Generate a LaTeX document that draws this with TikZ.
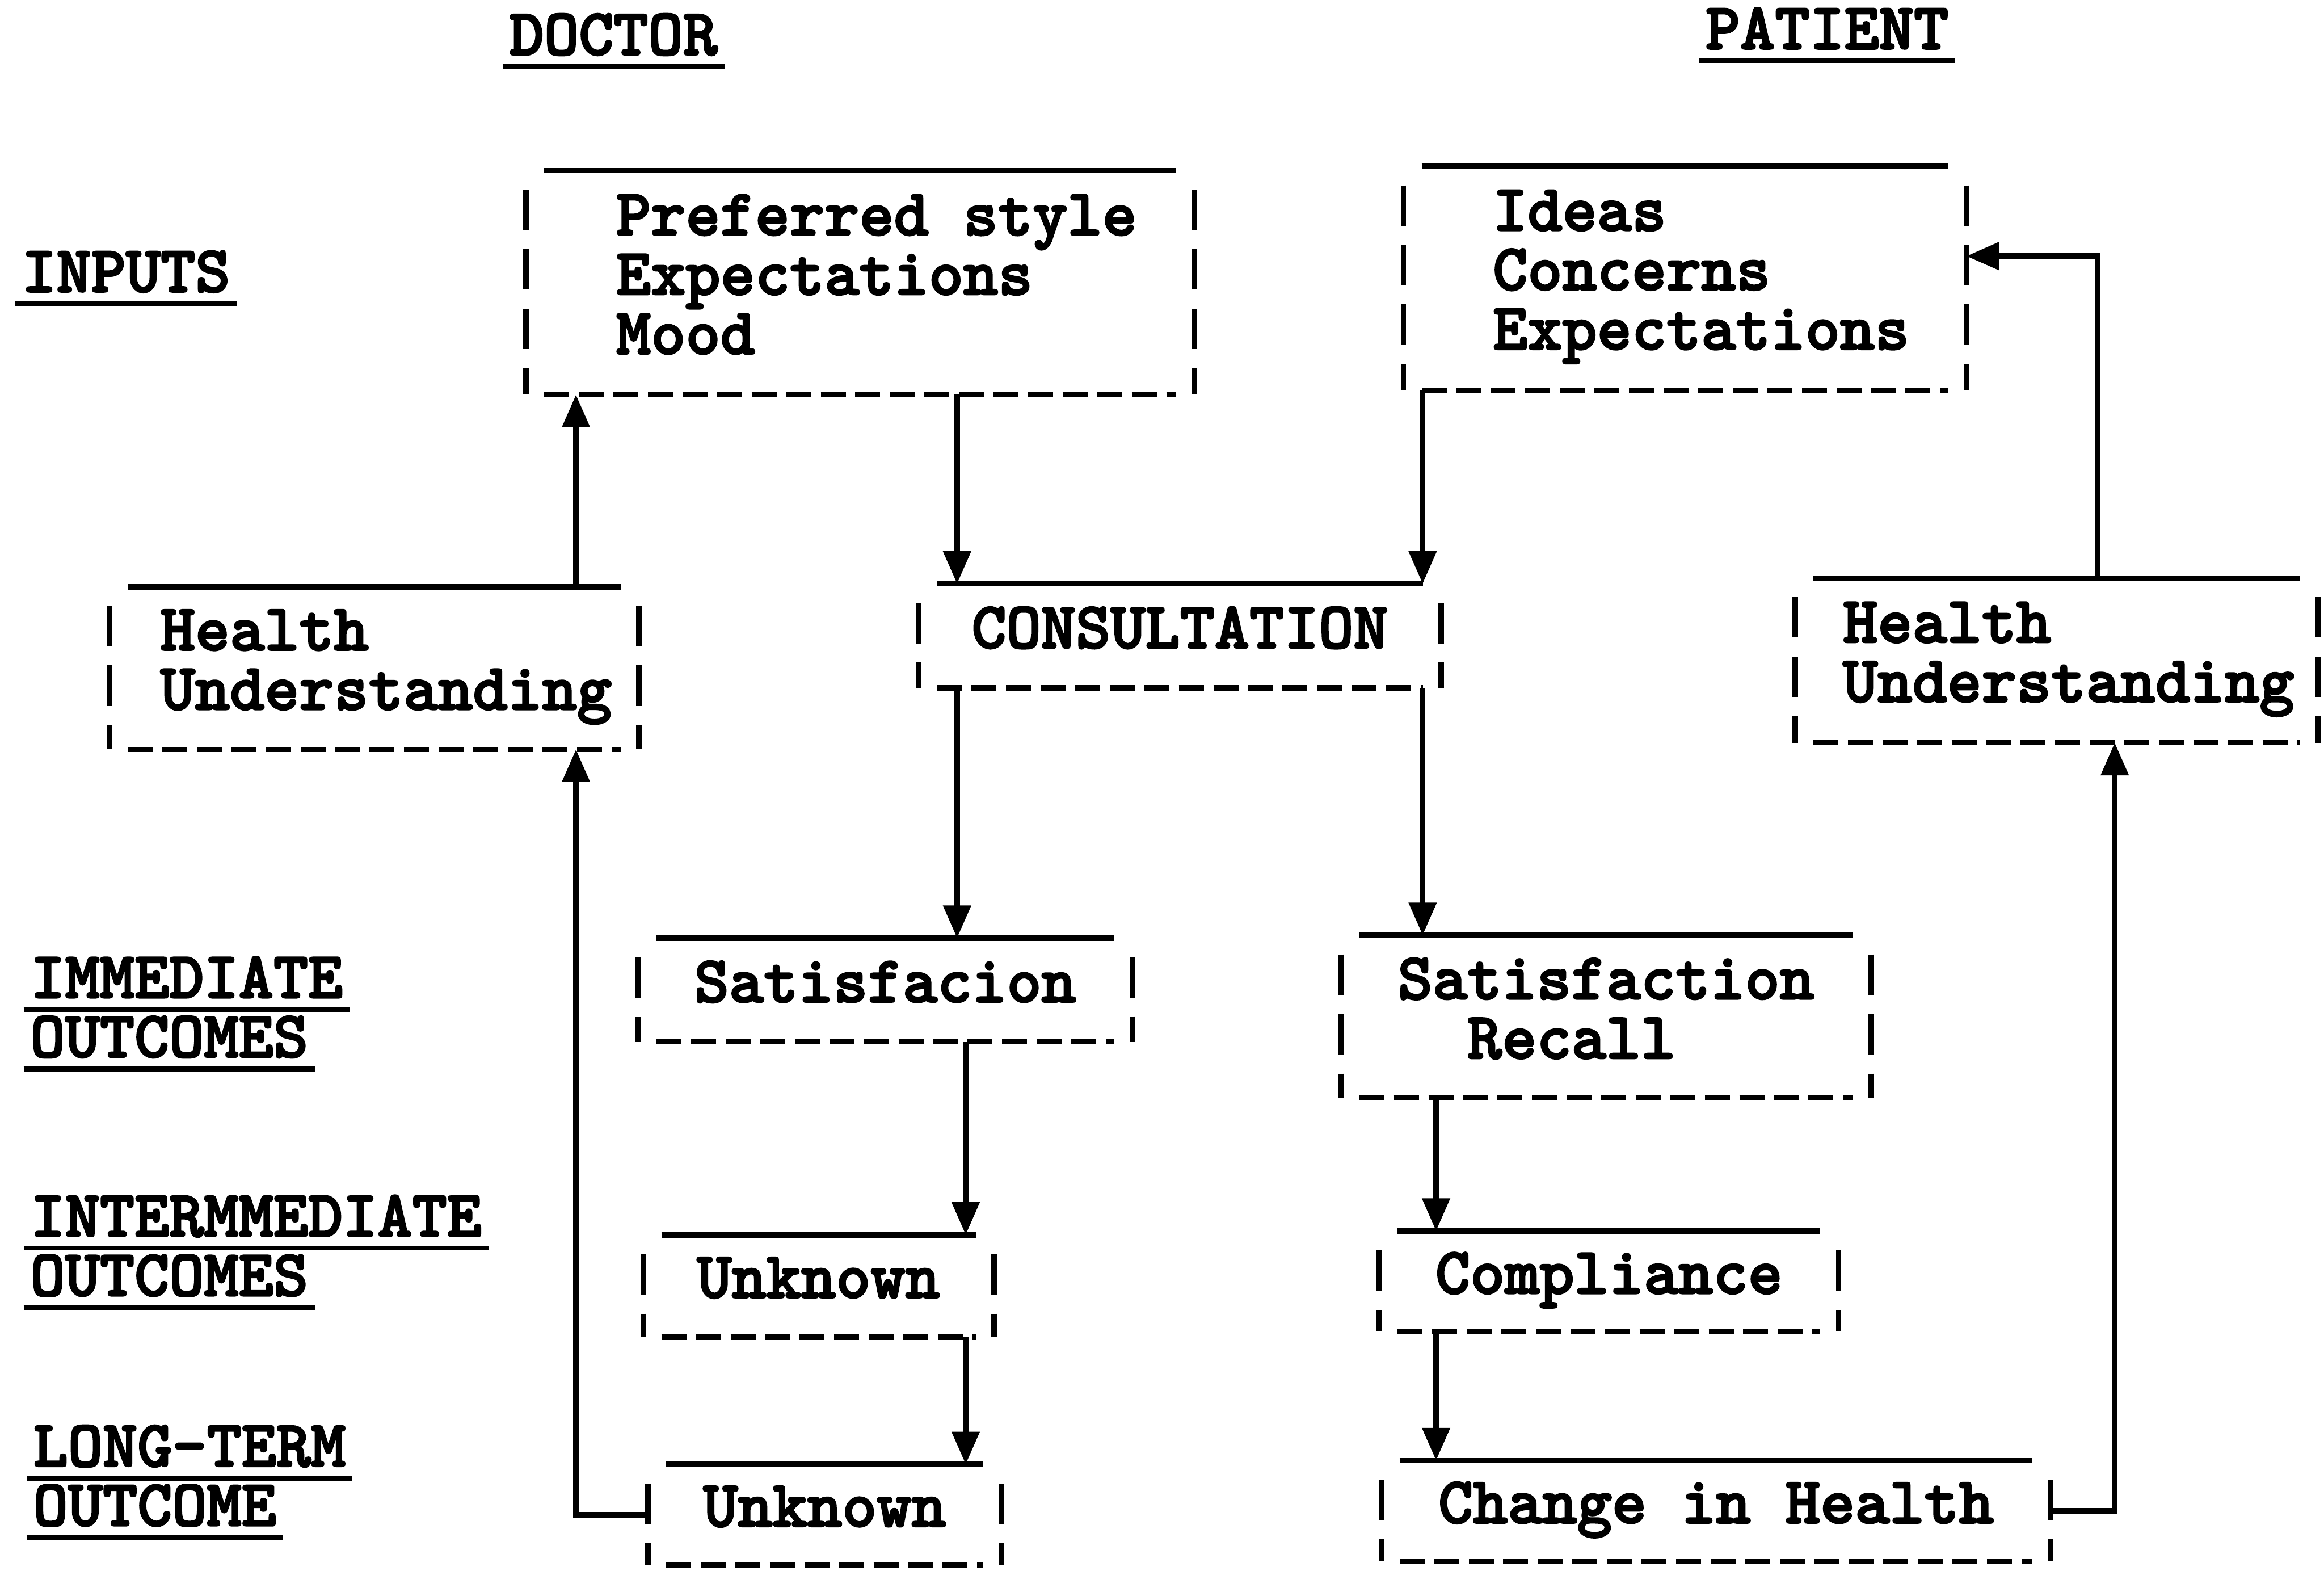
\documentclass[tikz,border=0pt]{standalone}
\usepackage{tikz}
\usetikzlibrary{arrows.meta,calc}
\font\typefnt="[lmmonolt10-bold]:embolden=2.5" at 19.6pt
\newcommand{\typefont}{\fontsize{19.6pt}{17.6pt}\selectfont\typefnt}
\newcommand{\uln}[1]{\setbox0=\hbox{#1}\rlap{\kern-2pt\rule[-4.2pt]{\dimexpr\wd0+4pt\relax}{1.4pt}}\box0}
\newcommand{\ind}[1][.34cm]{\hspace*{#1}}
\newcommand{\typedbox}[1]{%
  \draw[topline] ([xshift=.19cm]#1.north west) -- ([xshift=-.19cm]#1.north east);
  \draw[sideline] ([yshift=-.2cm]#1.north west) -- (#1.south west);
  \draw[sideline] ([yshift=-.2cm]#1.north east) -- (#1.south east);
  \draw[bottomline] ([xshift=.19cm]#1.south west) -- ([xshift=-.19cm]#1.south east);
}

\begin{document}
\begin{tikzpicture}[
    tbox/.style={anchor=north west,inner sep=0pt,align=left,font=\typefont,
      execute at end node={\rule[-5pt]{0pt}{0pt}}},
    lbl/.style={inner sep=0pt,align=left,font=\typefont},
    topline/.style={line width=1.6pt},
    sideline/.style={line width=1.6pt,dash pattern=on .42cm off .2cm},
    bottomline/.style={line width=1.6pt,dash pattern=on .26cm off .1cm},
    arr/.style={line width=1.6pt,-{Triangle[length=.34cm,width=.28cm]}}]
    \useasboundingbox (0,0) rectangle (24.21,-16.36);

    \draw node at (5.30,-0.571)[name=doctor,lbl,anchor=base west]{\uln{DOCTOR}};
    \draw node at (17.76,-0.51)[name=patient,lbl,anchor=base west]{\uln{PATIENT}};
    \draw node at (0.22,-3.04)[name=inputs,lbl,anchor=base west]{\uln{INPUTS}};
    \draw node at (0.31,-9.955)[name=immediate,lbl,anchor=north west]{\uln{IMMEDIATE}\\\uln{OUTCOMES}};
    \draw node at (0.31,-12.44)[name=intermediate,lbl,anchor=north west]{\uln{INTERMMEDIATE}\\\uln{OUTCOMES}};
    \draw node at (0.34,-14.835)[name=longterm,lbl,anchor=north west]{\uln{LONG-TERM}\\\uln{OUTCOME}};

    \draw node at (5.48,-1.776)[name=din,tbox,minimum width=6.95cm,minimum height=2.32cm]{\ind Preferred style\\\ind Expectations\\\ind Mood};
    \draw node at (14.62,-1.73)[name=pin,tbox,minimum width=5.85cm,minimum height=2.32cm]{\ind Ideas\\\ind Concerns\\\ind Expectations};
    \draw node at (1.14,-6.11)[name=dhu,tbox,minimum width=5.50cm,minimum height=1.68cm]{\ind[.25cm]Health\\\ind[.25cm]Understanding};
    \draw node at (9.57,-6.08)[name=cons,tbox,minimum width=5.43cm,minimum height=1.07cm]{CONSULTATION};
    \draw node at (18.70,-6.02)[name=phu,tbox,minimum width=5.435cm,minimum height=1.70cm]{\ind[.25cm]Health\\\ind[.25cm]Understanding};
    \draw node at (6.65,-9.77)[name=dsat,tbox,minimum width=5.13cm,minimum height=1.065cm]{Satisfacion};
    \draw node at (13.97,-9.74)[name=psat,tbox,minimum width=5.51cm,minimum height=1.68cm]{Satisfaction\\\phantom{Sa}Recall};
    \draw node at (6.70,-12.86)[name=dunkA,tbox,minimum width=3.64cm,minimum height=1.05cm]{Unknown};
    \draw node at (14.37,-12.82)[name=comp,tbox,minimum width=4.77cm,minimum height=1.035cm]{Compliance};
    \draw node at (6.75,-15.25)[name=dunkB,tbox,minimum width=3.67cm,minimum height=1.035cm]{Unknown};
    \draw node at (14.39,-15.21)[name=chg,tbox,minimum width=6.96cm,minimum height=1.035cm]{Change in Health};

    \typedbox{din} \typedbox{pin} \typedbox{dhu} \typedbox{cons} \typedbox{phu}
    \typedbox{dsat} \typedbox{psat} \typedbox{dunkA} \typedbox{comp}
    \typedbox{dunkB} \typedbox{chg}

    \coordinate (dback) at (6.0,0);
    \coordinate (dcolA) at (9.97,0);
    \coordinate (dcolB) at (10.06,0);
    \coordinate (pcolA) at (14.82,0);
    \coordinate (pcolB) at (14.96,0);
    \coordinate (pbackA) at (22.03,0);
    \coordinate (pbackB) at (21.85,0);

    \draw[arr] (dhu.north -| dback) -- (din.south -| dback);
    \draw[arr] (din.south -| dcolA) -- (cons.north -| dcolA);
    \draw[arr] (pin.south -| pcolA) -- (cons.north -| pcolA);
    \draw[arr] (cons.south -| dcolA) -- (dsat.north -| dcolA);
    \draw[arr] (cons.south -| pcolA) -- (psat.north -| pcolA);
    \draw[arr] (dsat.south -| dcolB) -- (dunkA.north -| dcolB);
    \draw[arr] (psat.south -| pcolB) -- (comp.north -| pcolB);
    \draw[arr] (dunkA.south -| dcolB) -- (dunkB.north -| dcolB);
    \draw[arr] (comp.south -| pcolB) -- (chg.north -| pcolB);
    \draw[arr] (dunkB.west) -| (dhu.south -| dback);
    \draw[arr] (chg.east) -| (phu.south -| pbackA);
    \draw[arr] (phu.north -| pbackB) |- ([yshift=.23cm]pin.east);
  \end{tikzpicture}
\end{document}
